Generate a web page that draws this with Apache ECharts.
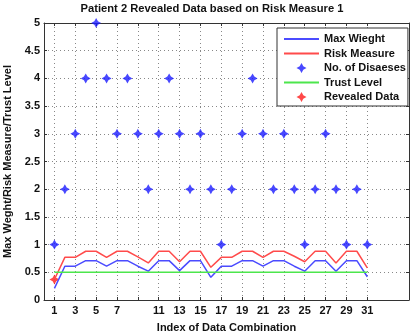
<!DOCTYPE html>
<html>
<head>
<meta charset="utf-8">
<script src="https://cdn.jsdelivr.net/npm/echarts@6/dist/echarts.min.js"></script>
<style>
html,body{margin:0;padding:0;background:#fff;}
#chart{width:413px;height:331px;}
</style>
</head>
<body>
<div id="chart"></div>
<script>
const indices = [1,2,3,4,5,6,7,8,9,10,11,12,13,14,15,16,17,18,19,20,21,22,23,24,25,26,27,28,29,30,31];
const maxWeight = [0.21,0.61,0.61,0.71,0.71,0.61,0.71,0.71,0.61,0.52,0.71,0.71,0.53,0.71,0.71,0.41,0.61,0.61,0.71,0.71,0.61,0.71,0.71,0.61,0.52,0.71,0.71,0.52,0.71,0.71,0.42];
const riskMeasure = [0.37,0.77,0.77,0.88,0.88,0.77,0.88,0.88,0.78,0.67,0.88,0.88,0.69,0.88,0.88,0.59,0.77,0.77,0.88,0.88,0.77,0.88,0.88,0.79,0.69,0.88,0.88,0.67,0.88,0.88,0.58];
const diseases = [1,2,3,4,5,4,3,4,3,2,3,4,3,2,3,2,1,2,3,4,3,2,3,2,1,2,3,2,1,2,1];
const trustLevel = [0.5,0.5,0.5,0.5,0.5,0.5,0.5,0.5,0.5,0.5,0.5,0.5,0.5,0.5,0.5,0.5,0.5,0.5,0.5,0.5,0.5,0.5,0.5,0.5,0.5,0.5,0.5,0.5,0.5,0.5,0.5];
const revealedIdx = [1];
const revealedVal = [0.37];
const xTicks = [1,3,5,7,9,11,13,15,17,19,21,23,25,27,29,31];
const xTickLabels = [1,3,5,7,11,13,15,17,19,21,23,25,27,29,31];

const pairs = (xs, ys) => xs.map((x, i) => [x, ys[i]]);
const star = 'path://M0,-5L1.8,-1.8L5,0L1.8,1.8L0,5L-1.8,1.8L-5,0L-1.8,-1.8Z';
const font = 'Liberation Sans';
const axisCol = '#333';
const noSym = {opacity: 0, borderWidth: 0};

const chart = echarts.init(document.getElementById('chart'), null, {renderer: 'canvas'});
chart.setOption({
  animation: false,
  backgroundColor: '#fff',
  title: {
    text: 'Patient 2 Revealed Data based on Risk Measure 1',
    left: 212, top: 3, textAlign: 'center', padding: 0,
    textStyle: {fontFamily: font, fontSize: 11.2, fontWeight: 'bold', color: '#111'}
  },
  grid: {left: 44, right: 4, top: 23, bottom: 31, containLabel: false, outerBoundsMode: 'none'},
  legend: {
    orient: 'vertical', left: 277, top: 28,
    padding: [4, 2, 2, 6], itemGap: 0.5,
    itemWidth: 35, itemHeight: 10,
    backgroundColor: '#fff', borderColor: '#333', borderWidth: 1,
    textStyle: {fontFamily: font, fontSize: 11, fontWeight: 'bold', color: '#111', lineHeight: 14},
    data: [
      {name: 'Max Wieght', itemStyle: noSym},
      {name: 'Risk Measure', itemStyle: noSym},
      {name: 'No. of Disaeses'},
      {name: 'Trust Level', itemStyle: noSym},
      {name: 'Revealed Data'}
    ]
  },
  xAxis: [{
    type: 'value', min: 0, max: 35, position: 'bottom',
    name: 'Index of Data Combination', nameLocation: 'middle', nameGap: 22,
    nameTextStyle: {fontFamily: font, fontSize: 11, fontWeight: 'bold', color: '#111'},
    axisLine: {show: true, onZero: false, lineStyle: {color: axisCol, width: 1}},
    axisTick: {show: true, inside: true, length: 3, customValues: xTicks, lineStyle: {color: axisCol}},
    axisLabel: {customValues: xTickLabels, margin: 5, fontFamily: font, fontSize: 11, fontWeight: 'bold', color: '#111'},
    splitLine: {show: true, lineStyle: {color: '#888', type: [1, 3], width: 1}}
  }, {
    type: 'value', min: 0, max: 35, position: 'top',
    axisLine: {show: true, onZero: false, lineStyle: {color: axisCol, width: 1}},
    axisTick: {show: true, inside: true, length: 3, customValues: xTicks, lineStyle: {color: axisCol}},
    axisLabel: {show: false},
    splitLine: {show: false}
  }],
  yAxis: [{
    type: 'value', min: 0, max: 5, interval: 0.5, position: 'left',
    name: 'Max Weght/Risk Measure/Trust Level', nameLocation: 'middle', nameGap: 25,
    nameTextStyle: {fontFamily: font, fontSize: 11, fontWeight: 'bold', color: '#111'},
    axisLine: {show: true, onZero: false, lineStyle: {color: axisCol, width: 1}},
    axisTick: {show: true, inside: true, length: 3, lineStyle: {color: axisCol}},
    axisLabel: {margin: 4, fontFamily: font, fontSize: 11, fontWeight: 'bold', color: '#111'},
    splitLine: {show: true, lineStyle: {color: '#888', type: [1, 3], width: 1}}
  }, {
    type: 'value', min: 0, max: 5, interval: 0.5, position: 'right',
    axisLine: {show: true, onZero: false, lineStyle: {color: axisCol, width: 1}},
    axisTick: {show: true, inside: true, length: 3, lineStyle: {color: axisCol}},
    axisLabel: {show: false},
    splitLine: {show: false}
  }],
  series: [{
    name: 'Max Wieght', type: 'line', symbol: 'none',
    data: pairs(indices, maxWeight),
    lineStyle: {color: '#4b4bff', width: 1.5}, itemStyle: {color: '#4b4bff'}
  }, {
    name: 'Risk Measure', type: 'line', symbol: 'none',
    data: pairs(indices, riskMeasure),
    lineStyle: {color: '#ff4b4b', width: 1.5}, itemStyle: {color: '#ff4b4b'}
  }, {
    name: 'No. of Disaeses', type: 'scatter', symbol: star, symbolSize: 10,
    data: pairs(indices, diseases),
    itemStyle: {color: '#1a1aff'}
  }, {
    name: 'Trust Level', type: 'line', symbol: 'none',
    data: pairs(indices, trustLevel),
    lineStyle: {color: '#4ce64c', width: 1.5}, itemStyle: {color: '#4ce64c'}
  }, {
    name: 'Revealed Data', type: 'scatter', symbol: star, symbolSize: 10,
    data: pairs(revealedIdx, revealedVal),
    itemStyle: {color: '#ff1a1a'}
  }]
});
</script>
</body>
</html>
